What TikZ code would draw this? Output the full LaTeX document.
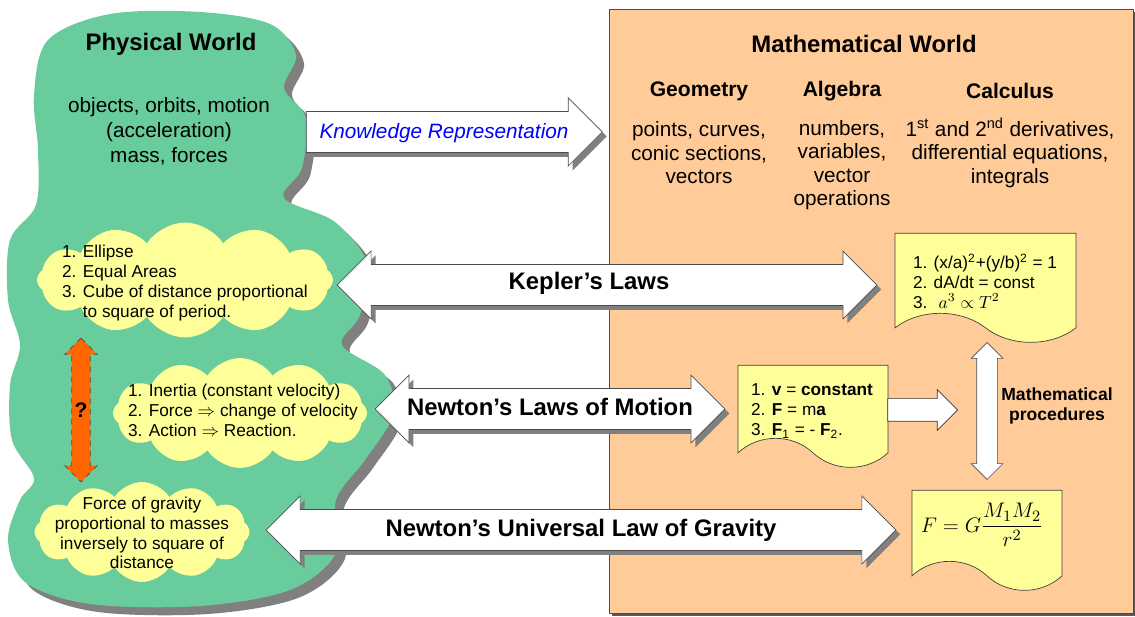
\documentclass[tikz,border=0pt]{standalone}
\usepackage{fontspec}
\setmainfont{Liberation Sans}
\usepackage{tikz}
\usetikzlibrary{shapes.arrows,shapes.symbols,shadows}
\definecolor{pgreen}{RGB}{104,204,156}
\definecolor{mpeach}{RGB}{255,204,153}
\definecolor{lyellow}{RGB}{255,255,153}
\definecolor{qorange}{RGB}{255,102,0}
\definecolor{shgray}{RGB}{128,128,128}

\begin{document}
\begin{tikzpicture}[x=0.02cm,y=-0.02cm,
  ttl/.style={font=\fontsize{13.6}{16}\selectfont\bfseries,inner sep=0pt},
  txt/.style={align=center,font=\fontsize{11.8}{13.4}\selectfont,inner sep=0pt},
  sml/.style={align=left,font=\fontsize{9.8}{11.3}\selectfont,inner sep=0pt},
  cld/.style={cloud,cloud puffs=12,cloud puff arc=115,cloud ignores aspect,fill=lyellow,inner sep=0pt},
  paper/.style={tape,tape bend top=none,tape bend bottom=out and in,tape bend height=0.58cm,
    draw=gray!50!black,fill=lyellow,anchor=north},
  bigarr/.style={draw=gray!60!black,fill=white,inner xsep=0pt,inner ysep=5pt,
    text height=10pt,text depth=3pt,font=\fontsize{13.6}{16}\selectfont\bfseries,
    drop shadow={shadow xshift=2.5pt,shadow yshift=-2.5pt,fill=shgray,opacity=1}},
  dbl/.style={bigarr,double arrow,double arrow head extend=0.27cm},
  sgl/.style={bigarr,single arrow,single arrow head extend=0.27cm}]
\useasboundingbox (0,0) rectangle (1135,617);
% mathematical world
\draw[draw=gray!60!black,fill=mpeach,
  drop shadow={shadow xshift=1.5pt,shadow yshift=-1.5pt,fill=gray!70!black,opacity=1}]
  (609,9) rectangle (1133,613);
% physical world blob + shadow
\foreach \s/\c in {8/shgray,0/pgreen}
  \fill[\c,shift={(\s,\s)}] plot[smooth cycle,tension=0.55] coordinates {
    (48,40) (110,14) (200,12) (270,24) (296,55) (284,88) (306,118) (302,168)
    (284,198) (335,222) (368,265) (360,315) (342,345) (385,375) (393,415)
    (365,460) (336,500) (336,553) (290,590) (200,606) (90,604) (25,582)
    (8,540) (20,500) (34,478) (12,440) (10,385) (20,345) (8,300) (10,240)
    (36,205) (38,150) (34,95)};

\node[ttl] (pw) at (171,44) {Physical World};
\node[txt,font=\fontsize{11.8}{14.2}\selectfont] (pwt) at (169,131)
  {objects, orbits, motion\\(acceleration)\\mass, forces};

\node[cld,minimum width=5.92cm,minimum height=2.3cm] (kcl) at (185,280) {};
\node[sml] (kct) at (185,283)
  {1. Ellipse\\2. Equal Areas\\3. Cube of distance proportional\\\phantom{3. }to square of period.};
\node[cld,minimum width=5.08cm,minimum height=2.2cm] (ncl) at (240,413) {};
\node[sml] (nct) at (243,410)
  {1. Inertia (constant velocity)\\2. Force $\Rightarrow$ change of velocity\\3. Action $\Rightarrow$ Reaction.};
\node[cld,minimum width=4.3cm,minimum height=2cm] (gcl) at (142,532) {};
\node[sml,align=center] (gct) at (142,533)
  {Force of gravity\\proportional to masses\\inversely to square of\\distance};

\node[double arrow,rotate=90,draw=black!70,dashed,fill=qorange,minimum height=2.88cm,
  inner xsep=0pt,inner ysep=0.18cm,double arrow head extend=0.14cm] (qa) at (81,410) {};
\node[font=\fontsize{12}{14}\selectfont\bfseries] (qm) at (81,410) {?};

\node[ttl] (mw) at (864,44) {Mathematical World};
\node[ttl,font=\fontsize{12}{14}\selectfont\bfseries] (geo) at (699,91) {Geometry};
\node[ttl,font=\fontsize{12}{14}\selectfont\bfseries] (alg) at (842,91) {Algebra};
\node[ttl,font=\fontsize{12}{14}\selectfont\bfseries] (cal) at (1010,91) {Calculus};
\node[txt] (geot) at (699,153) {points, curves,\\conic sections,\\vectors};
\node[txt] (algt) at (842,165) {numbers,\\variables,\\vector\\operations};
\node[txt] (calt) at (1010,153)
  {1\textsuperscript{st} and 2\textsuperscript{nd} derivatives,\\differential equations,\\integrals};

\node[sgl,font=\fontsize{11.8}{14}\selectfont\itshape,text=blue,minimum height=5.92cm] (kr)
  at (444,132) {Knowledge Representation};
\node[dbl,minimum height=10.8cm] (kep) at (607,285) {};
\node[ttl] (kept) at (589,283) {Kepler's Laws};
\node[dbl,minimum height=7cm] (nlm) at (550,409) {Newton's Laws of Motion};
\node[dbl,minimum height=12.6cm] (ulg) at (581,530) {Newton's Universal Law of Gravity};

\node[paper,minimum width=3.62cm,minimum height=2.18cm] (kpp) at (985.5,233) {};
\node[sml] (kmt) at (985,281)
  {1. (x/a)\textsuperscript{2}+(y/b)\textsuperscript{2} = 1\\2. dA/dt = const\\3. \;$a^3\propto T^2$};
\node[paper,minimum width=3cm,minimum height=2.04cm] (npp) at (813,365) {};
\node[sml] (nmt) at (812,411)
  {1. \textbf{v} = \textbf{constant}\\2. \textbf{F} = m\textbf{a}\\3. \textbf{F}\textsubscript{1} = - \textbf{F}\textsubscript{2}.};
\node[paper,minimum width=3cm,minimum height=2cm] (gpp) at (987,490) {};
\node[font=\fontsize{13}{15}\selectfont] (gmt) at (982,525) {$\displaystyle F=G\frac{M_1M_2}{r^2}$};

\node[single arrow,draw=black!80,fill=white,minimum height=1.4cm,inner xsep=0pt,
  inner ysep=0.22cm,single arrow head extend=0.18cm] (sa) at (917,410) {};
\node[double arrow,rotate=90,draw=gray!60!black,fill=white,minimum height=2.74cm,
  inner xsep=0pt,inner ysep=0.2cm,double arrow head extend=0.11cm] (va) at (987,411) {};
\node[align=center,font=\fontsize{10}{11.9}\selectfont\bfseries] (mp) at (1057,406)
  {Mathematical\\procedures};
\end{tikzpicture}
\end{document}
